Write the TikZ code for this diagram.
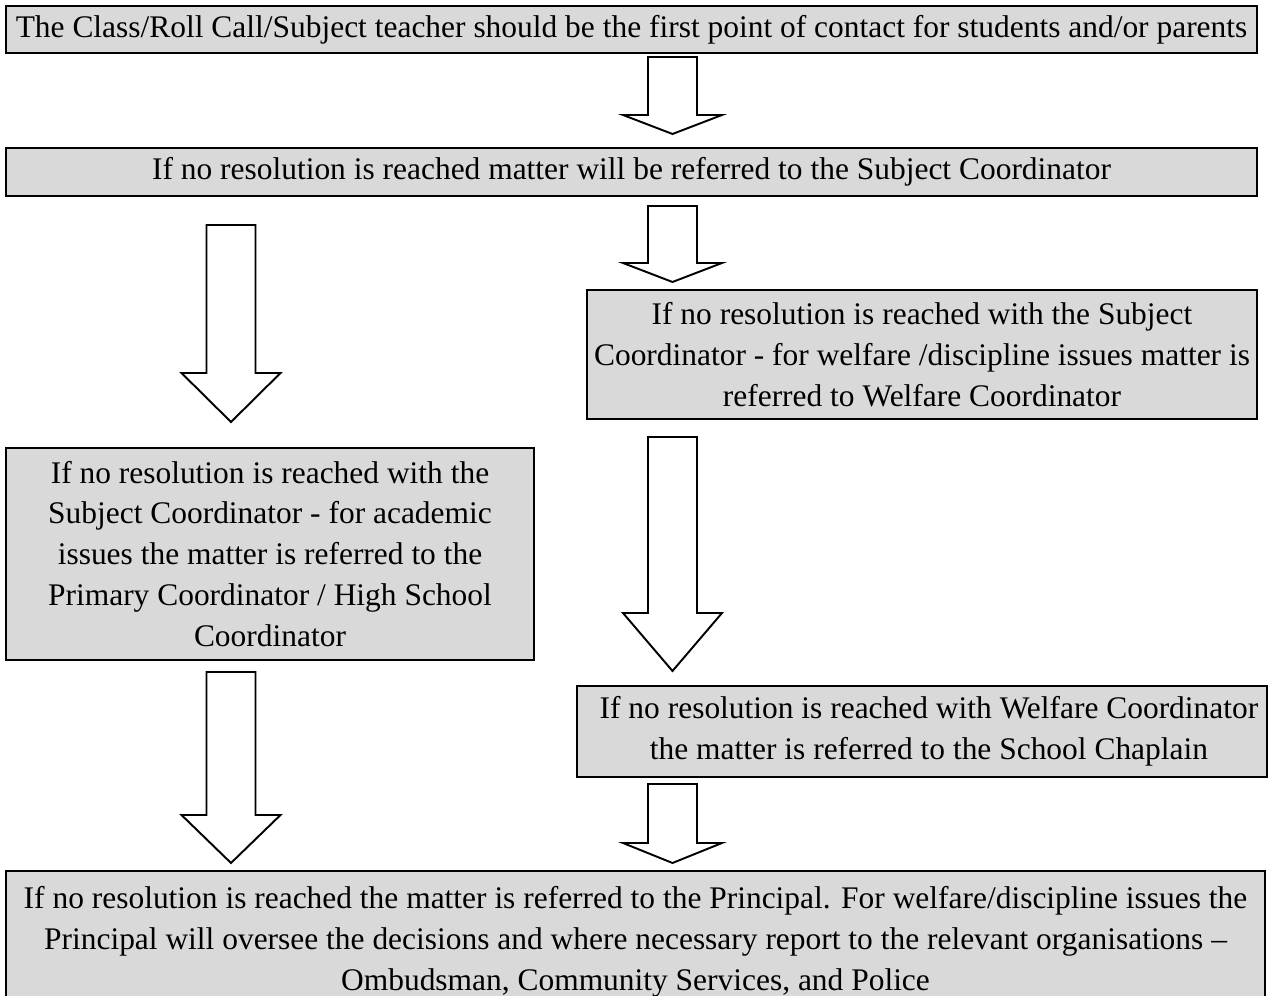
\documentclass[tikz,border=0pt]{standalone}
\usepackage{fontspec}
\setmainfont{Liberation Serif}
\usetikzlibrary{calc}
\definecolor{boxgray}{RGB}{217,217,217}
\tikzset{
  stepbox/.style={rectangle, draw=black, line width=1.4pt, fill=boxgray,
                  align=center, inner sep=0pt, font=\fontsize{17.9}{23.3}\selectfont},
  hollow/.style={draw=black, line width=1.1pt, fill=white, line join=miter},
}
% block arrow: shaft top, tip, head length (px)
\newcommand{\bigarrow}[3]{%
  \draw[hollow] ($(#1)+(-24.5,0)$) -- ($(#1)+(24.5,0)$) -- ($(#2)+(24.5,-#3)$)
    -- ($(#2)+(49.5,-#3)$) -- (#2) -- ($(#2)+(-49.5,-#3)$) -- ($(#2)+(-24.5,-#3)$) -- cycle;}

\begin{document}
\begin{tikzpicture}[x=0.02cm, y=-0.02cm]
\useasboundingbox (0,0) rectangle (1269,996);

\node[stepbox, minimum width=25.02cm, minimum height=0.94cm] (teacher) at (631.5,29.5)
  {The Class/Roll Call/Subject teacher should be the first point of contact for students and/or parents};
\node[stepbox, minimum width=25.02cm, minimum height=0.96cm] (subject) at (631.5,172)
  {If no resolution is reached matter will be referred to the Subject Coordinator};
\node[stepbox, minimum width=13.4cm, minimum height=2.58cm] (welfare) at (922,354.5)
  {If no resolution is reached with the Subject\\Coordinator - for welfare /discipline issues matter is\\referred to Welfare Coordinator};
\node[stepbox, minimum width=10.56cm, minimum height=4.24cm] (academic) at (270,554)
  {If no resolution is reached with the\\Subject Coordinator - for academic\\issues the matter is referred to the\\Primary Coordinator / High School\\Coordinator};
\node[stepbox, minimum width=13.8cm, minimum height=1.82cm] (chaplain) at (922,731.5)
  {\hspace{0.28cm}If no resolution is reached with Welfare Coordinator\\\hspace{0.28cm}the matter is referred to the School Chaplain};
\node[stepbox, minimum width=25.18cm, minimum height=2.84cm] (principal) at (635.5,942)
  {If no resolution is reached the matter is referred to the Principal. For welfare/discipline issues the\\Principal will oversee the decisions and where necessary report to the relevant organisations --\\Ombudsman, Community Services, and Police};

\coordinate (a1s) at (672.5,57);  \coordinate (a1t) at (672.5,134);
\coordinate (a2s) at (672.5,206); \coordinate (a2t) at (672.5,282);
\coordinate (a3s) at (231,225);   \coordinate (a3t) at (231,422);
\coordinate (a4s) at (672.5,437); \coordinate (a4t) at (672.5,671);
\coordinate (a5s) at (231,672);   \coordinate (a5t) at (231,863);
\coordinate (a6s) at (672.5,784); \coordinate (a6t) at (672.5,863);
\foreach \s/\t/\h in {a1s/a1t/19, a2s/a2t/19, a3s/a3t/49, a4s/a4t/58, a5s/a5t/48, a6s/a6t/20}
  \bigarrow{\s}{\t}{\h};
\end{tikzpicture}
\end{document}
